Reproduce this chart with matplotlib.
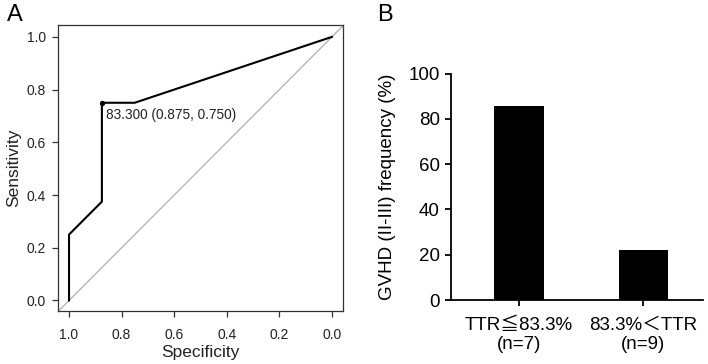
import matplotlib
matplotlib.use("Agg")
import matplotlib.pyplot as plt

plt.rcParams['font.family'] = ['Liberation Sans', 'Noto Sans CJK JP', 'DejaVu Sans']

# Panel A: ROC curve (specificity, sensitivity)
roc_spec = [1.0, 1.0, 0.875, 0.875, 0.75, 0.0]
roc_sens = [0.0, 0.25, 0.375, 0.75, 0.75, 1.0]
best_spec, best_sens = 0.875, 0.750
best_label = "83.300 (0.875, 0.750)"
roc_ticks = [0.0, 0.2, 0.4, 0.6, 0.8, 1.0]

# Panel B: GVHD frequency by TTR group
groups = ["TTR≦83.3%\n(n=7)", "83.3%＜TTR\n(n=9)"]
gvhd_freq = [85.7, 22.2]
freq_ticks = [0, 20, 40, 60, 80, 100]

fig = plt.figure(figsize=(7.08, 3.64), dpi=100)

# ---- Panel A ----
ax1 = fig.add_axes([0.0819, 0.1456, 0.4025, 0.7857])
ax1.plot([-0.1, 1.1], [1.1, -0.1], color='#b0b0b0', lw=0.9)
ax1.plot(roc_spec, roc_sens, color='black', lw=1.5)
ax1.plot([best_spec], [best_sens], 'o', color='black', ms=2.8)
ax1.annotate(best_label, (best_spec, best_sens), xytext=(3, -4),
             textcoords='offset points', fontsize=9.8, va='top', ha='left',
             color='#222222')
ax1.set_xlim(1.042, -0.042)
ax1.set_ylim(-0.04, 1.045)
ax1.set_xticks(roc_ticks)
ax1.set_yticks(roc_ticks)
ax1.set_xticklabels([f"{t:.1f}" for t in roc_ticks])
ax1.set_yticklabels([f"{t:.1f}" for t in roc_ticks])
ax1.tick_params(labelsize=10, length=4.5, width=0.9, color='#333333',
                labelcolor='#222222', pad=4)
ax1.tick_params(axis='x', pad=8)
for s in ax1.spines.values():
    s.set_linewidth(0.9)
    s.set_color('#333333')
ax1.set_xlabel("Specificity", fontsize=12.5, labelpad=2, color='#222222')
ax1.set_ylabel("Sensitivity", fontsize=12.5, labelpad=4, color='#222222')
fig.text(0.010, 0.943, "A", fontsize=17)

# ---- Panel B ----
ax2 = fig.add_axes([0.637, 0.1758, 0.356, 0.6217])
ax2.bar(range(len(groups)), gvhd_freq, width=0.4, color='black')
ax2.set_xlim(-0.548, 1.48)
ax2.set_ylim(0, 100)
ax2.set_yticks(freq_ticks)
ax2.set_xticks(range(len(groups)))
ax2.set_xticklabels(groups, fontsize=13.5, linespacing=1.2)
ax2.tick_params(axis='y', labelsize=13.5, length=4, width=1.3, pad=4)
ax2.tick_params(axis='x', length=4, width=1.3, pad=8)
ax2.spines['top'].set_visible(False)
ax2.spines['right'].set_visible(False)
ax2.spines['left'].set_linewidth(1.3)
ax2.spines['bottom'].set_linewidth(1.3)
ax2.set_ylabel("GVHD (II-III) frequency (%)", fontsize=13.5, labelpad=9)
fig.text(0.532, 0.943, "B", fontsize=17)

fig.savefig("out.png", dpi=100)
